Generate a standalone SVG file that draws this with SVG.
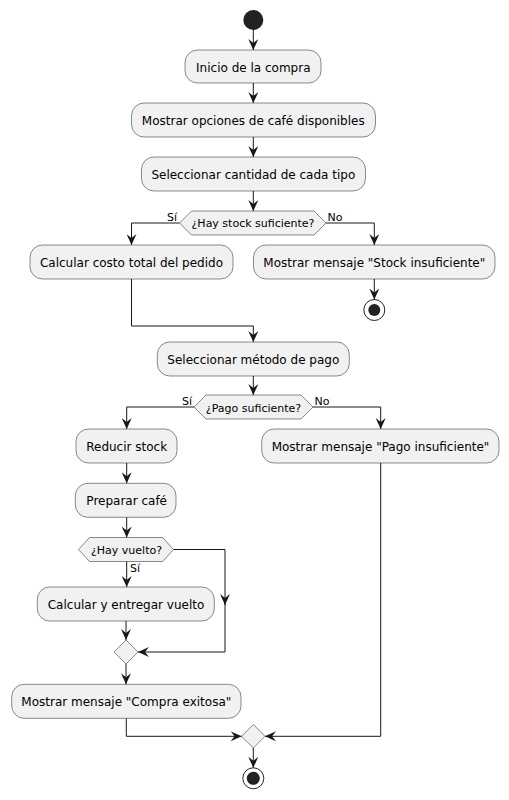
<svg xmlns="http://www.w3.org/2000/svg" width="509" height="800" viewBox="0 0 509 800">
<defs>
<marker id="ah" markerWidth="11" markerHeight="10" refX="11" refY="5" orient="auto" markerUnits="userSpaceOnUse" viewBox="0 0 11 10">
<polygon points="0,0 11,5 0,10 4,5" fill="#181818"/>
</marker>
</defs>
<style>
.box{fill:#F1F1F1;stroke:#181818;stroke-width:0.5}
.t{font-family:"DejaVu Sans",Verdana,sans-serif;font-size:12px;fill:#000;text-anchor:middle}
.s{font-family:"DejaVu Sans",Verdana,sans-serif;font-size:11px;fill:#000}
.c{fill:none;stroke:#181818;stroke-width:1;marker-end:url(#ah)}
.l{fill:none;stroke:#181818;stroke-width:1}
</style>
<rect width="509" height="800" fill="#FFFFFF"/>
<g id="start"><circle cx="253.3" cy="20" r="10" fill="#222222"/></g>
<g id="n1"><rect class="box" x="185" y="50" width="136" height="33" rx="12.5"/><text class="t" x="253.3" y="71.5">Inicio de la compra</text></g>
<g id="n2"><rect class="box" x="131.5" y="103" width="244" height="34" rx="12.5"/><text class="t" x="253.3" y="124.5">Mostrar opciones de café disponibles</text></g>
<g id="n3"><rect class="box" x="141.5" y="157" width="224" height="34" rx="12.5"/><text class="t" x="253.3" y="178.5">Seleccionar cantidad de cada tipo</text></g>
<g id="d1"><polygon class="box" points="179.5,223 191.5,211 314,211 326,223 314,235 191.5,235"/><text class="s" x="253" y="227" text-anchor="middle">¿Hay stock suficiente?</text></g>
<g id="n4"><rect class="box" x="30" y="245" width="203" height="34" rx="12.5"/><text class="t" x="131.5" y="266.5">Calcular costo total del pedido</text></g>
<g id="n5"><rect class="box" x="253.5" y="245" width="241.5" height="34" rx="12.5"/><text class="t" x="374.3" y="266.5">Mostrar mensaje "Stock insuficiente"</text></g>
<g id="stop1"><circle cx="374.3" cy="310" r="10.5" fill="none" stroke="#222222" stroke-width="1"/><circle cx="374.3" cy="310" r="6" fill="#222222"/></g>
<g id="n6"><rect class="box" x="157.3" y="342" width="192" height="34" rx="12.5"/><text class="t" x="253.3" y="363.5">Seleccionar método de pago</text></g>
<g id="d2"><polygon class="box" points="194,407 206,395 301,395 313,407 301,419 206,419"/><text class="s" x="253.5" y="411.5" text-anchor="middle">¿Pago suficiente?</text></g>
<g id="n7"><rect class="box" x="76" y="429" width="101" height="34" rx="12.5"/><text class="t" x="126.7" y="450.5">Reducir stock</text></g>
<g id="n8"><rect class="box" x="261.7" y="429" width="237.3" height="34" rx="12.5"/><text class="t" x="380.5" y="450.5">Mostrar mensaje "Pago insuficiente"</text></g>
<g id="n9"><rect class="box" x="75.3" y="483.3" width="100.7" height="34" rx="12.5"/><text class="t" x="126.7" y="504.8">Preparar café</text></g>
<g id="d3"><polygon class="box" points="78.5,549.5 89.5,537.5 162.7,537.5 173.5,549.5 162.7,561.5 89.5,561.5"/><text class="s" x="126.5" y="553.5" text-anchor="middle">¿Hay vuelto?</text></g>
<g id="n10"><rect class="box" x="37.3" y="587" width="177" height="34" rx="12.5"/><text class="t" x="126" y="608.5">Calcular y entregar vuelto</text></g>
<g id="m1"><polygon class="box" points="126,640 138,652 126,664 114,652"/></g>
<g id="n11"><rect class="box" x="11.7" y="684.3" width="229.3" height="34" rx="12.5"/><text class="t" x="126.3" y="705.8">Mostrar mensaje "Compra exitosa"</text></g>
<g id="m2"><polygon class="box" points="253.3,724.5 265,736.3 253.3,748 241.6,736.3"/></g>
<g id="end"><circle cx="253.3" cy="778.3" r="10.5" fill="none" stroke="#222222" stroke-width="1"/><circle cx="253.3" cy="778.3" r="6.5" fill="#222222"/></g>
<g id="connectors">
<path class="c" d="M253.3,30 V50"/>
<path class="c" d="M253.3,83 V103"/>
<path class="c" d="M253.3,137 V157"/>
<path class="c" d="M253.3,191 V211"/>
<path class="c" d="M179.5,223 H131.5 V245"/>
<path class="c" d="M326,223 H374.3 V245"/>
<path class="c" d="M374.3,279 V299.5"/>
<path class="l" d="M131.5,279 V326 H253.3"/>
<path class="c" d="M253.3,326 V342"/>
<path class="c" d="M253.3,376 V395"/>
<path class="c" d="M194,407 H126.7 V429"/>
<path class="c" d="M313,407 H380.7 V429"/>
<path class="c" d="M126.7,463 V483.3"/>
<path class="c" d="M126.7,517.3 V537.5"/>
<path class="c" d="M126.7,561.5 V587"/>
<path class="c" d="M173.5,549.5 H225 V605"/>
<path class="c" d="M225,600 V652 H138"/>
<path class="c" d="M126,621 V640"/>
<path class="c" d="M126,664 V684.3"/>
<path class="c" d="M126.3,718.3 V736.3 H241.6"/>
<path class="c" d="M380.7,463 V736.3 H265"/>
<path class="c" d="M253.3,748 V767.8"/>
<text class="s" x="177" y="221" text-anchor="end">Sí</text>
<text class="s" x="327.5" y="221">No</text>
<text class="s" x="192" y="405" text-anchor="end">Sí</text>
<text class="s" x="314.5" y="405">No</text>
<text class="s" x="130" y="572">Sí</text>
</g>
</svg>
